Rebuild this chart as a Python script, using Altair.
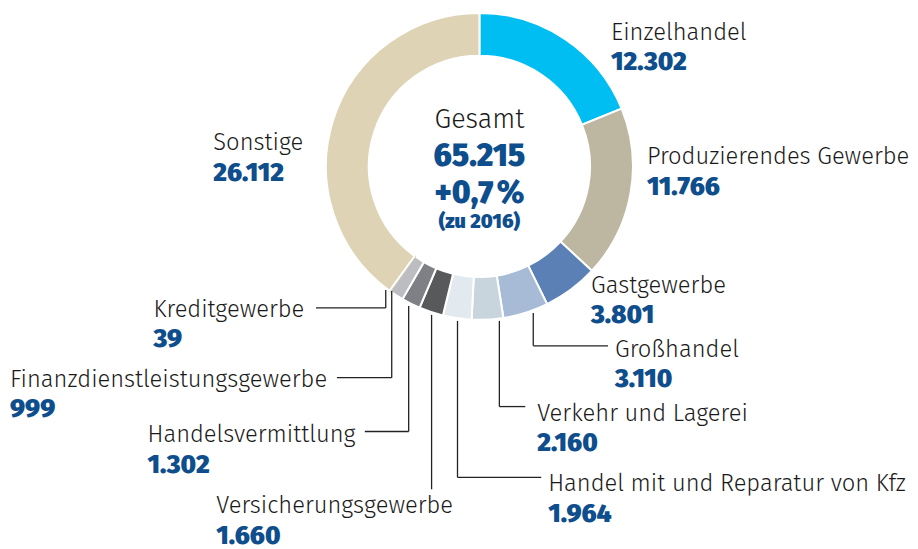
import altair as alt
import pandas as pd

# ---- data ----
categories = ["Einzelhandel", "Produzierendes Gewerbe", "Gastgewerbe", "Großhandel",
              "Verkehr und Lagerei", "Handel mit und Reparatur von Kfz",
              "Versicherungsgewerbe", "Handelsvermittlung",
              "Finanzdienstleistungsgewerbe", "Kreditgewerbe", "Sonstige"]
values = [12302, 11766, 3801, 3110, 2160, 1964, 1660, 1302, 999, 39, 26112]
colors = ["#00BEF2", "#BDB6A0", "#5B80B5", "#A7BBD6", "#C8D5DD", "#E2E9EF",
          "#58595B", "#7F8085", "#BBBDC0", "#BFB496", "#DED3B5"]
center_title = "Gesamt"
total_label = "65.215"
change_label = "+0,7\u202f%"
change_note = "(zu 2016)"

# ---- layout (page pixel coordinates) ----
label_x = [613, 649, 593, 617, 539, 550, 217, 148, 10, 154, 214]
label_y = [39, 164, 293, 357, 421, 492, 514, 443, 387, 317, 150]
leaders = {
    "Großhandel": [(535, 313), (535, 346), (610, 346)],
    "Verkehr und Lagerei": [(501, 321), (501, 407), (527, 407)],
    "Handel mit und Reparatur von Kfz": [(459, 321), (459, 478), (543, 478)],
    "Versicherungsgewerbe": [(433, 315), (433, 490)],
    "Handelsvermittlung": [(410, 306), (410, 432), (366, 432)],
    "Finanzdienstleistungsgewerbe": [(393, 291), (393, 378), (338, 378)],
    "Kreditgewerbe": [(387, 290), (387, 308), (317, 308)],
}
cx, cy, r_out, r_in = 481, 166, 154, 111

BLUE = "#0F4E8C"
FONT = "Fira Sans, Open Sans"
W, H = 902, 533

def fmt(v):
    return f"{v:,}".replace(",", ".")

slices = pd.DataFrame({"cat": categories, "value": values, "order": range(len(values))})
labels = pd.DataFrame({
    "cat": categories,
    "vlabel": [fmt(v) for v in values],
    "x": label_x,
    "y": label_y,
    "y2": [y + 30.5 for y in label_y],
})
segs = []
for cat, pts in leaders.items():
    for (x1, y1), (x2, y2) in zip(pts[:-1], pts[1:]):
        segs.append({"cat": cat, "x": x1, "y": y1, "x2": x2, "y2": y2})
segs = pd.DataFrame(segs)
center = pd.DataFrame({
    "t": [center_title, total_label, change_label, change_note],
    "x": [cx] * 4,
    "y": [127, 166, 203, 228],
    "kind": ["title", "big", "big", "note"],
})

xs = alt.Scale(domain=[8, 8 + W], range=[0, W])
ys = alt.Scale(domain=[8, 8 + H], range=[0, H])

arcs = alt.Chart(slices).mark_arc(
    outerRadius=r_out, innerRadius=r_in, strokeWidth=2
).encode(
    theta=alt.Theta("value:Q", stack=True),
    order=alt.Order("order:Q"),
    color=alt.Color("cat:N", scale=alt.Scale(domain=categories, range=colors), legend=None),
    stroke=alt.condition(alt.datum.cat == "Kreditgewerbe", alt.value("#BFB496"), alt.value("white")),
    x=alt.value(cx - 8),
    y=alt.value(cy - 8),
)

rules = alt.Chart(segs).mark_rule(color="#222222", strokeWidth=1.3).encode(
    x=alt.X("x:Q", scale=xs, axis=None),
    y=alt.Y("y:Q", scale=ys, axis=None),
    x2="x2:Q",
    y2="y2:Q",
)

names = alt.Chart(labels).mark_text(
    align="left", baseline="alphabetic", font=FONT, fontSize=23.8, fontWeight=300, color="#1a1a1a"
).encode(
    x=alt.X("x:Q", scale=xs, axis=None),
    y=alt.Y("y:Q", scale=ys, axis=None),
    text="cat:N",
)

nums = alt.Chart(labels).mark_text(
    align="left", baseline="alphabetic", font=FONT, fontSize=26, fontWeight=900, color=BLUE
).encode(
    x=alt.X("x:Q", scale=xs, axis=None),
    y=alt.Y("y2:Q", scale=ys, axis=None),
    text="vlabel:N",
)

c_title = alt.Chart(center).transform_filter(alt.datum.kind == "title").mark_text(
    align="center", baseline="alphabetic", font=FONT, fontSize=27, fontWeight=300, color="#1a1a1a"
).encode(x=alt.X("x:Q", scale=xs, axis=None), y=alt.Y("y:Q", scale=ys, axis=None), text="t:N")

c_big = alt.Chart(center).transform_filter(alt.datum.kind == "big").mark_text(
    align="center", baseline="alphabetic", font=FONT, fontSize=31.5, fontWeight=900, color=BLUE
).encode(x=alt.X("x:Q", scale=xs, axis=None), y=alt.Y("y:Q", scale=ys, axis=None), text="t:N")

c_note = alt.Chart(center).transform_filter(alt.datum.kind == "note").mark_text(
    align="center", baseline="alphabetic", font=FONT, fontSize=20, fontWeight=900, color=BLUE
).encode(x=alt.X("x:Q", scale=xs, axis=None), y=alt.Y("y:Q", scale=ys, axis=None), text="t:N")

chart = alt.layer(arcs, rules, names, nums, c_title, c_big, c_note).properties(
    width=W, height=H, padding=0
).configure_view(stroke=None).resolve_scale(x="shared", y="shared")

chart.save("out.html", embed_options={"renderer": "svg", "actions": False})
